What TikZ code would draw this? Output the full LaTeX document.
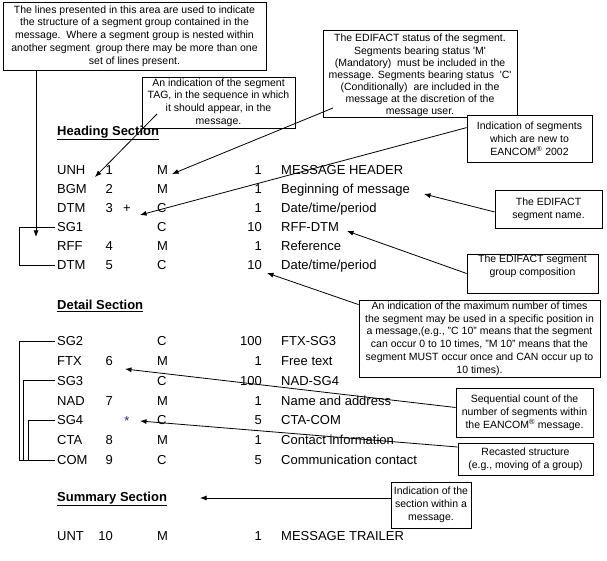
\documentclass[tikz,border=0pt]{standalone}
\usepackage{fontspec}
\setmainfont{Liberation Sans}
\usetikzlibrary{arrows.meta,calc}
\definecolor{navyblue}{RGB}{40,40,150}
\newcommand{\segrow}[7]{%
  \node[row] (#1) at (57,#2+4.7) {#3};
  \node[rowr] (#1n) at (113,#2+4.7) {#4};
  \node[row] (#1s) at (157,#2+4.7) {#5};
  \node[rowr] (#1c) at (262,#2+4.7) {#6};
  \node[row] (#1t) at (281,#2+4.7) {#7};}
\begin{document}
\begin{tikzpicture}[x=1pt,y=-1pt,
  note/.style={draw, line width=0.8pt, fill=white, inner sep=0pt, align=center,
    font=\fontsize{10.5}{12.8}\selectfont},
  notetext/.style={inner sep=0pt, align=center, font=\fontsize{10.5}{12.1}\selectfont},
  row/.style={anchor=base west, inner sep=0pt, font=\fontsize{13}{15}\selectfont},
  rowr/.style={anchor=base east, inner sep=0pt, font=\fontsize{13}{15}\selectfont},
  rowc/.style={anchor=base, inner sep=0pt, font=\fontsize{13}{15}\selectfont},
  sect/.style={anchor=base west, inner sep=0pt, font=\fontsize{13}{15}\selectfont\bfseries},
  arr/.style={line width=0.8pt, -{Latex[length=6.5pt,width=5pt]}},
  bracket/.style={line width=0.8pt}]
\useasboundingbox (0,0) rectangle (607,561);
\fill[white] (0,0) rectangle (607,561);

% ---------- explanatory boxes ----------
\node[note, minimum width=263pt, minimum height=68pt] (b1) at (134.5,36)
  {The lines presented in this area are used to indicate\\
   the structure of a segment group contained in the\\
   message.\ \ Where a segment group is nested within\\
   another segment\ \ group there may be more than one\\
   set of lines present.};
\node[note, minimum width=153pt, minimum height=51pt] (b2) at (218.5,102.5)
  {An indication of the segment\\ TAG, in the sequence in which\\
   it should appear, in the\\ message.};
\node[note, minimum width=194pt, minimum height=87pt] (b3) at (420,73.5) {};
\node[notetext] (b3t) at (420,75.5)
  {The EDIFACT status of the segment.\\
   Segments bearing status \textquotesingle M\textquotesingle\\
   (Mandatory)\ \ must be included in the\\
   message. Segments bearing status\ \ \textquotesingle C\textquotesingle\\
   (Conditionally)\ \ are included in the\\
   message at the discretion of the\\
   message user.};
\node[note, minimum width=125pt, minimum height=47pt] (b4) at (529.5,138.5)
  {Indication of segments\\ which are new to\\ EANCOM\textsuperscript{®} 2002};
\node[note, minimum width=107pt, minimum height=38pt] (b5) at (548.5,209)
  {The EDIFACT\\ segment name.};
\node[note, minimum width=131pt, minimum height=39pt] (b6) at (532.5,273.5)
  {The EDIFACT segment\\ group composition\\ \strut};
\node[note, minimum width=241pt, minimum height=77pt] (b7) at (479.5,338.5)
  {An indication of the maximum number of times\\
   the segment may be used in a specific position in\\
   a message,(e.g., "C 10" means that the segment\\
   can occur 0 to 10 times, "M 10" means that the\\
   segment MUST occur once and CAN occur up to\\
   10 times).};
\node[note, minimum width=137pt, minimum height=49pt] (b8) at (524.5,412.5)
  {Sequential count of the\\ number of segments within\\ the EANCOM\textsuperscript{®} message.};
\node[note, minimum width=135pt, minimum height=32pt] (b9) at (525.5,459)
  {Recasted structure\\ (e.g., moving of a group)};
\node[note, minimum width=80pt, minimum height=46pt] (b10) at (431,505)
  {Indication of the\\ section within a\\ message.};

% ---------- section headings ----------
\node[sect] (hs) at (57,135.5) {\underline{Heading Section}};
\node[sect] (ds) at (57,309.5) {\underline{Detail Section}};
\node[sect] (ss) at (57,501.5) {\underline{Summary Section}};

% ---------- segment table ----------
\segrow{unh}{170}{UNH}{1}{M}{1}{MESSAGE HEADER}
\segrow{bgm}{189}{BGM}{2}{M}{1}{Beginning of message}
\segrow{dtma}{208}{DTM}{3}{C}{1}{Date/time/period}
\segrow{sgone}{227}{SG1}{}{C}{10}{RFF-DTM}
\segrow{rff}{246}{RFF}{4}{M}{1}{Reference}
\segrow{dtmb}{265}{DTM}{5}{C}{10}{Date/time/period}
\node[rowc] (plus) at (127,212.7) {+};

\segrow{sgtwo}{341}{SG2}{}{C}{100}{FTX-SG3}
\segrow{ftx}{360.8}{FTX}{6}{M}{1}{Free text}
\segrow{sgthree}{380.6}{SG3}{}{C}{100}{NAD-SG4}
\segrow{nad}{400.4}{NAD}{7}{M}{1}{Name and address}
\segrow{sgfour}{420.2}{SG4}{}{C}{5}{CTA-COM}
\segrow{cta}{440}{CTA}{8}{M}{1}{Contact information}
\segrow{com}{459.8}{COM}{9}{C}{5}{Communication contact}
\node[rowc, font=\fontsize{13}{15}\selectfont, text=navyblue] (star) at (127,425) {*};

\segrow{unt}{536}{UNT}{10}{M}{1}{MESSAGE TRAILER}

% ---------- group brackets ----------
\draw[bracket] ([xshift=-2pt]sgone.west) -- ++(-36,0) |- ([xshift=-2pt]dtmb.west);
\draw[bracket] ([xshift=-2pt]sgtwo.west) -- ++(-36,0) |- ([xshift=-2pt]com.west);
\draw[bracket] ([xshift=-2pt]sgthree.west) -- ++(-32,0) |- ([xshift=-2pt]com.west);
\draw[bracket] ([xshift=-2pt]sgfour.west) -- ++(-27,0) |- ([xshift=-2pt]com.west);

% ---------- pointer arrows ----------
\coordinate (t1) at (36,237);
\coordinate (s2) at (157,114);
\coordinate (t2) at (95,177);
\coordinate (s3) at (333,108);
\coordinate (t3) at (172,174);
\coordinate (t4) at (140,215);
\coordinate (t5) at (424,194);
\coordinate (t6) at (347,231);
\coordinate (t7) at (267,273);
\coordinate (t8) at (125,369);
\coordinate (t9) at (140,421);
\coordinate (t10) at (200,498);

\draw[arr] (b1.south -| t1) -- (t1);
\draw[arr] (s2) -- (t2);
\draw[arr] (s3) -- (t3);
\draw[arr] ([yshift=-13pt]b4.north west) -- (t4);
\draw[arr] ([yshift=-3pt]b5.west) -- (t5);
\draw[arr] (b6.west) -- (t6);
\draw[arr] ([yshift=-5pt]b7.north west) -- (t7);
\draw[arr] ([yshift=5pt]b8.west) -- (t8);
\draw[arr] ([yshift=12pt]b9.west) -- (t9);
\draw[arr] ([yshift=7pt]b10.west) -- (t10);
\end{tikzpicture}
\end{document}
